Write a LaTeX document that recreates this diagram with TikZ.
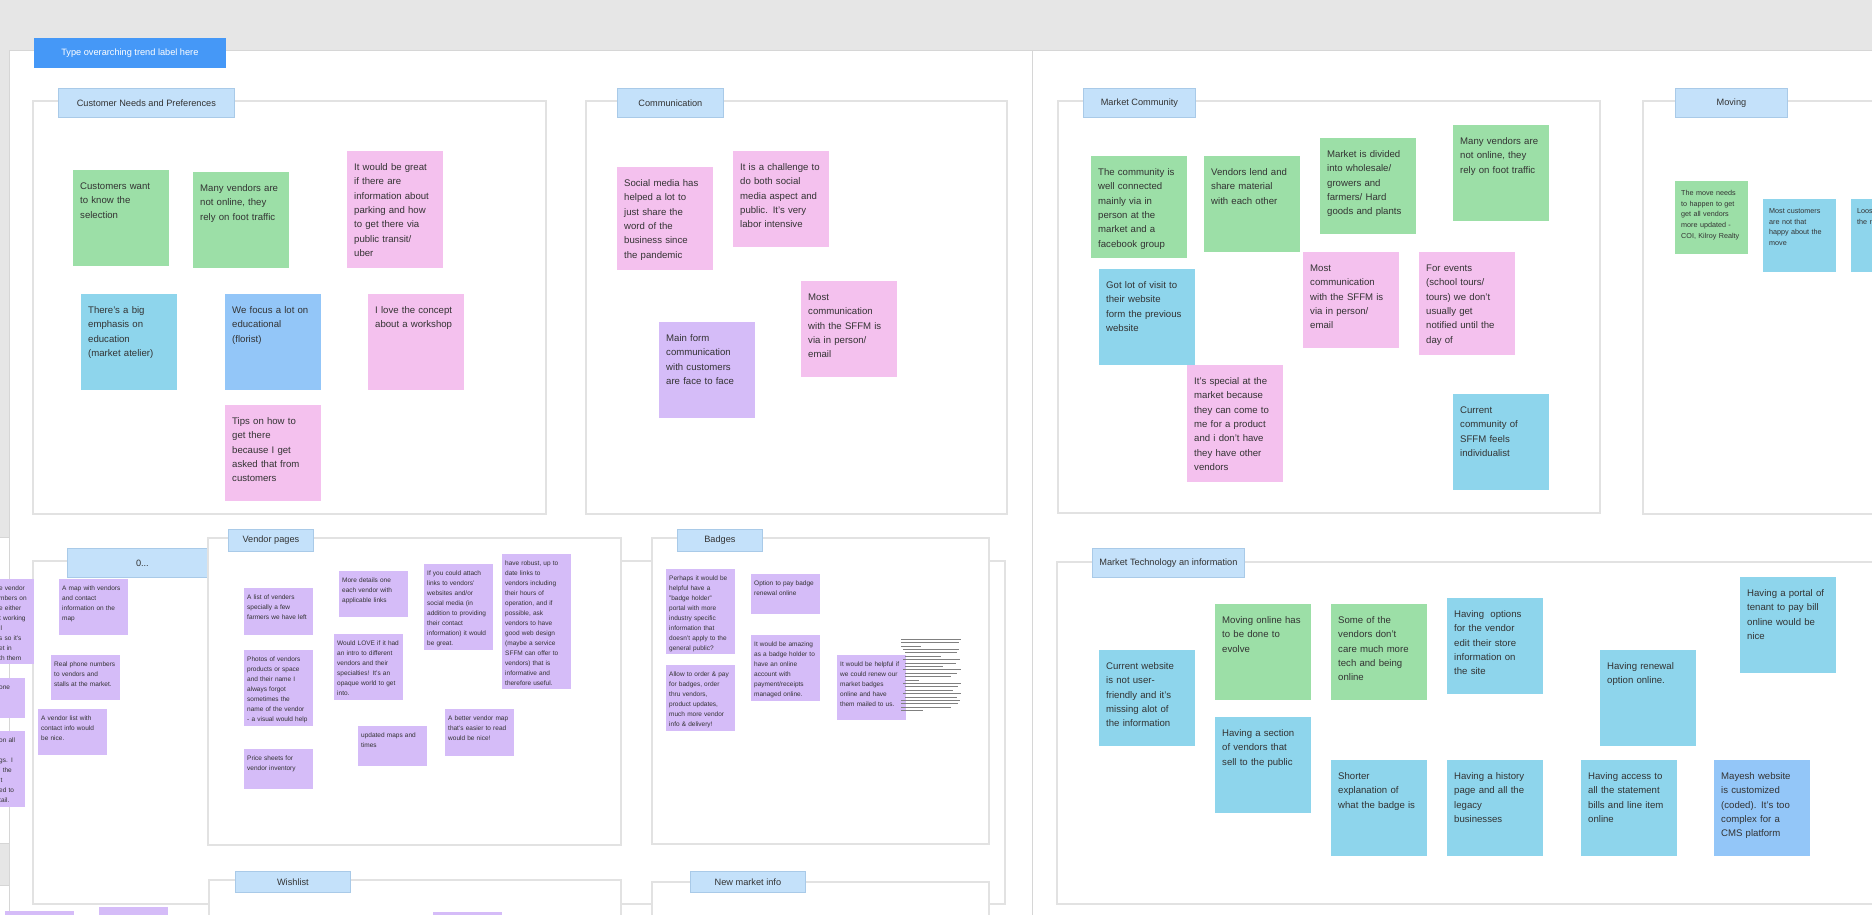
\documentclass[tikz,border=0pt]{standalone}
\usepackage{fontspec}
\setmainfont{Liberation Sans}
\usepackage{tikz}
\usetikzlibrary{positioning}

\definecolor{canvasgrey}{HTML}{E6E6E6}
\definecolor{boardline}{HTML}{D6D6D6}
\definecolor{arealine}{HTML}{E2E2E2}
\definecolor{tagblue}{HTML}{C4E1FA}
\definecolor{tagline}{HTML}{A9CAE8}
\definecolor{titleblue}{HTML}{4598F7}
\definecolor{notegreen}{HTML}{9CDFA7}
\definecolor{notepink}{HTML}{F4C1EE}
\definecolor{notecyan}{HTML}{8ED5EC}
\definecolor{noteblue}{HTML}{93C6F8}
\definecolor{notepurple}{HTML}{D5BCF8}
\definecolor{ink}{HTML}{333333}

\hyphenpenalty=10000
\exhyphenpenalty=10000

\newcommand{\notefont}{\fontsize{9.6pt}{14.4pt}\selectfont}
\newcommand{\minifont}{\fontsize{6.5pt}{10pt}\selectfont}
\newcommand{\movefont}{\fontsize{7.2pt}{10.8pt}\selectfont}
\newcommand{\tagfont}{\fontsize{9.2pt}{11pt}\selectfont}

\begin{document}
\begin{tikzpicture}[x=1pt, y=-1pt,
    board/.style={draw=boardline, line width=0.8pt, fill=white},
    area/.style={draw=arealine, line width=1.2pt, fill=white},
    headtag/.style={anchor=north west, inner sep=0pt, draw=tagline, line width=0.8pt, fill=tagblue, text=ink, font=\tagfont},
    sticky/.style={anchor=north west, inner xsep=7pt, inner ysep=0pt, text width=82pt, text height=19pt, text depth=#1, align=left, text=ink, font=\notefont},
    sticky/.default=77pt,
    gnote/.style={sticky=#1, fill=notegreen}, gnote/.default=77pt,
    pnote/.style={sticky=#1, fill=notepink}, pnote/.default=77pt,
    cnote/.style={sticky=#1, fill=notecyan}, cnote/.default=77pt,
    bnote/.style={sticky=#1, fill=noteblue}, bnote/.default=77pt,
    vnote/.style={sticky=#1, fill=notepurple}, vnote/.default=77pt,
    mini/.style={anchor=north west, inner xsep=3pt, inner ysep=0pt, text width=63pt, text height=11pt, text depth=#1, align=left, text=ink, font=\minifont, fill=notepurple},
    movenote/.style={anchor=north west, inner xsep=6pt, inner ysep=0pt, text width=61pt, text height=14pt, text depth=59pt, align=left, text=ink, font=\movefont},
    fragment/.style={anchor=north west, inner sep=0pt, text width=40pt, text height=11pt, align=left, text=ink, font=\minifont},
    microtext/.style={draw=black!50, line width=0.5pt}
  ]
  \useasboundingbox (0,0) rectangle (1872,914);
  \clip (0,0) rectangle (1872,914);

  \fill[canvasgrey] (0,0) rectangle (1872,914);
  \draw[board] (-5,537) rectangle (9,843);
  \draw[board] (-5,885) rectangle (9,930);
  \draw[board] (9,50) rectangle (1032,930);
  \draw[board] (1032,50) rectangle (1890,930);

  \node[headtag, fill=titleblue, draw=titleblue, text=white, minimum width=191pt, minimum height=29pt] (trend) at (34,38) {Type overarching trend label here};

  % upper row of areas
  \draw[area] (33,101) rectangle (546,514);
  \draw[area] (586,101) rectangle (1007,514);
  \draw[area] (1058,101) rectangle (1600,513);
  \draw[area] (1643,101) rectangle (1890,514);
  \node[headtag, minimum width=176pt, minimum height=29pt] (needs) at (58,88) {Customer Needs and Preferences};
  \node[headtag, minimum width=106pt, minimum height=29pt] (comms) at (617,88) {Communication};
  \node[headtag, minimum width=112pt, minimum height=29pt] (community) at (1083,88) {Market Community};
  \node[headtag, minimum width=112pt, minimum height=29pt] (moving) at (1675,88) {Moving};

  % lower row of areas
  \draw[area] (33,561) rectangle (1005,904);
  \node[headtag, minimum width=150pt, minimum height=29pt] (zero) at (67,548) {0...};
  \draw[area] (208,538) rectangle (621,845);
  \draw[area] (652,538) rectangle (989,844);
  \draw[area] (209,880) rectangle (621,930);
  \draw[area] (652,882) rectangle (989,930);
  \draw[area] (1057,562) rectangle (1890,904);
  \node[headtag, minimum width=85pt, minimum height=22pt] (vendorpages) at (228,529) {Vendor pages};
  \node[headtag, minimum width=85pt, minimum height=22pt] (badges) at (677,529) {Badges};
  \node[headtag, minimum width=115pt, minimum height=21pt] (wishlist) at (235,871) {Wishlist};
  \node[headtag, minimum width=115pt, minimum height=21pt] (newinfo) at (690,871) {New market info};
  \node[headtag, minimum width=152pt, minimum height=29pt] (tech) at (1092,548) {Market Technology an information};

  % Customer Needs and Preferences
  \node[gnote] (cn1) at (73,170) {Customers want\\to know the\\selection};
  \node[gnote] (cn2) at (193,172) {Many vendors are\\not online, they\\rely on foot traffic};
  \node[pnote=98pt] (cn3) at (347,151) {It would be great\\if there are\\information about\\parking and how\\to get there via\\public transit/\\uber};
  \node[cnote] (cn4) at (81,294) {There's a big\\emphasis on\\education\\(market atelier)};
  \node[bnote] (cn5) at (225,294) {We focus a lot on\\educational\\(florist)};
  \node[pnote] (cn6) at (368,294) {I love the concept\\about a workshop};
  \node[pnote] (cn7) at (225,405) {Tips on how to\\get there\\because I get\\asked that from\\customers};

  % Communication
  \node[pnote=84pt] (cm1) at (617,167) {Social media has\\helped a lot to\\just share the\\word of the\\business since\\the pandemic};
  \node[pnote] (cm2) at (733,151) {It is a challenge to\\do both social\\media aspect and\\public. It's very\\labor intensive};
  \node[vnote] (cm3) at (659,322) {Main form\\communication\\with customers\\are face to face};
  \node[pnote] (cm4) at (801,281) {Most\\communication\\with the SFFM is\\via in person/\\email};

  % Market Community
  \node[gnote=83pt] (mc1) at (1091,156) {The community is\\well connected\\mainly via in\\person at the\\market and a\\facebook group};
  \node[gnote] (mc2) at (1204,156) {Vendors lend and\\share material\\with each other};
  \node[gnote] (mc3) at (1320,138) {Market is divided\\into wholesale/\\growers and\\farmers/ Hard\\goods and plants};
  \node[gnote] (mc4) at (1453,125) {Many vendors are\\not online, they\\rely on foot traffic};
  \node[cnote] (mc5) at (1099,269) {Got lot of visit to\\their website\\form the previous\\website};
  \node[pnote] (mc6) at (1303,252) {Most\\communication\\with the SFFM is\\via in person/\\email};
  \node[pnote=84pt] (mc7) at (1419,252) {For events\\(school tours/\\tours) we don't\\usually get\\notified until the\\day of};
  \node[pnote=98pt] (mc8) at (1187,365) {It's special at the\\market because\\they can come to\\me for a product\\and i don't have\\they have other\\vendors};
  \node[cnote] (mc9) at (1453,394) {Current\\community of\\SFFM feels\\individualist};

  % Moving
  \node[movenote, fill=notegreen] (mv1) at (1675,181) {The move needs\\to happen to get\\get all vendors\\more updated -\\COI, Kilroy Realty};
  \node[movenote, fill=notecyan] (mv2) at (1763,199) {Most customers\\are not that\\happy about the\\move};
  \node[movenote, fill=notecyan] (mv3) at (1851,199) {Loos\\the r};

  % cut off notes at the left edge
  \fill[notepurple] (-40,579) rectangle (34,664);
  \node[fragment] (lv1) at (-1,579) {e vendor\\mbers on\\e either\\t working\\ll\\s so it's\\et in\\th them};
  \fill[notepurple] (-40,678) rectangle (25,718);
  \node[fragment] (lv2) at (-1,678) {one};
  \fill[notepurple] (-40,731) rectangle (25,807);
  \node[fragment] (lv3) at (-1,731) {on all\\\mbox{}\\gs. I\\' the\\it\\ed to\\tail.};

  % 0...
  \node[mini=45pt] (ov1) at (59,579) {A map with vendors\\and contact\\information on the\\map};
  \node[mini=34pt] (ov2) at (51,655) {Real phone numbers\\to vendors and\\stalls at the market.};
  \node[mini=35pt] (ov3) at (38,709) {A vendor list with\\contact info would\\be nice.};

  % Vendor pages
  \node[mini=36pt] (vp1) at (244,588) {A list of venders\\specially a few\\farmers we have left};
  \node[mini=65pt] (vp2) at (244,650) {Photos of vendors\\products or space\\and their name I\\always forgot\\sometimes the\\name of the vendor\\- a visual would help};
  \node[mini=29pt] (vp3) at (244,749) {Price sheets for\\vendor inventory};
  \node[mini=35pt] (vp4) at (339,571) {More details one\\each vendor with\\applicable links};
  \node[mini=55pt] (vp5) at (334,634) {Would LOVE if it had\\an intro to different\\vendors and their\\specialties! It's an\\opaque world to get\\into.};
  \node[mini=75pt] (vp6) at (424,564) {If you could attach\\links to vendors'\\websites and/or\\social media (in\\addition to providing\\their contact\\information) it would\\be great.};
  \node[mini=124pt] (vp7) at (502,554) {have robust, up to\\date links to\\vendors including\\their hours of\\operation, and if\\possible, ask\\vendors to have\\good web design\\(maybe a service\\SFFM can offer to\\vendors) that is\\informative and\\therefore useful.};
  \node[mini=29pt] (vp8) at (358,726) {updated maps and\\times};
  \node[mini=36pt] (vp9) at (445,709) {A better vendor map\\that's easier to read\\would be nice!};

  % Badges
  \node[mini=74pt] (bd1) at (666,569) {Perhaps it would be\\helpful have a\\"badge holder"\\portal with more\\industry specific\\information that\\doesn't apply to the\\general public?};
  \node[mini=55pt] (bd2) at (666,665) {Allow to order \& pay\\for badges, order\\thru vendors,\\product updates,\\much more vendor\\info \& delivery!};
  \node[mini=29pt] (bd3) at (751,574) {Option to pay badge\\renewal online};
  \node[mini=55pt] (bd4) at (751,635) {It would be amazing\\as a badge holder to\\have an online\\account with\\payment/receipts\\managed online.};
  \node[mini=54pt] (bd5) at (837,655) {It would be helpful if\\we could renew our\\market badges\\online and have\\them mailed to us.};
  \foreach \row/\indent/\len in {0/0/60,1/0/58,2/0/20,3/2/58,4/4/56,5/4/40,6/2/59,7/4/55,8/4/42,9/2/60,10/4/56,11/4/50,12/4/18,13/2/60,14/4/57,15/4/52,16/2/60,17/4/56,18/0/59,19/0/57,20/0/50,21/0/22}
    \draw[microtext] ({901+\indent},{639+3.4*\row}) -- ++(\len-\indent,0);

  % notes at the bottom edge
  \node[mini=20pt] (wl0) at (5,911) {};
  \node[mini=20pt] (wl1) at (99,907) {};
  \node[mini=20pt] (wl2) at (433,912) {};

  % Market Technology an information
  \node[cnote] (mt1) at (1099,650) {Current website\\is not user-\\friendly and it's\\missing alot of\\the information};
  \node[gnote] (mt2) at (1215,604) {Moving online has\\to be done to\\evolve};
  \node[cnote] (mt3) at (1215,717) {Having a section\\of vendors that\\sell to the public};
  \node[gnote] (mt4) at (1331,604) {Some of the\\vendors don't\\care much more\\tech and being\\online};
  \node[cnote] (mt5) at (1331,760) {Shorter\\explanation of\\what the badge is};
  \node[cnote] (mt6) at (1447,598) {Having~ options\\for the vendor\\edit their store\\information on\\the site};
  \node[cnote] (mt7) at (1447,760) {Having a history\\page and all the\\legacy\\businesses};
  \node[cnote] (mt8) at (1600,650) {Having renewal\\option online.};
  \node[cnote] (mt9) at (1740,577) {Having a portal of\\tenant to pay bill\\online would be\\nice};
  \node[cnote] (mt10) at (1581,760) {Having access to\\all the statement\\bills and line item\\online};
  \node[bnote] (mt11) at (1714,760) {Mayesh website\\is customized\\(coded). It's too\\complex for a\\CMS platform};
\end{tikzpicture}
\end{document}
